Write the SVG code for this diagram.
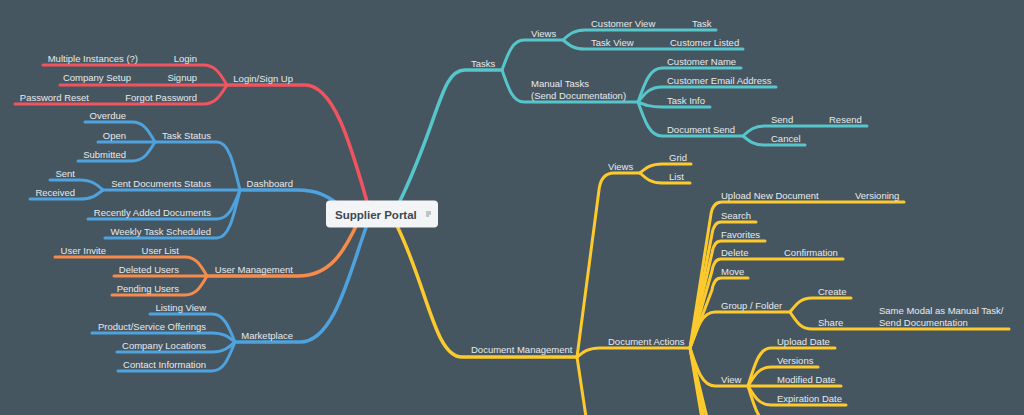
<svg xmlns="http://www.w3.org/2000/svg" width="1024" height="415" viewBox="0 0 1024 415">
<style>
.bg{fill:#465661}
.c{fill:none;stroke-width:3;stroke-linecap:round;stroke-linejoin:round}
.m{stroke-width:3.5}
.red{stroke:#F1545F}.teal{stroke:#56C6CB}.blue{stroke:#4EA2DE}.orange{stroke:#F68B4B}.yel{stroke:#FDCA2E}
text{font-family:"Liberation Sans",Arial,sans-serif;font-size:9.5px;fill:#E6EAED}
.e{text-anchor:end}
.root{font-size:11.5px;font-weight:bold;fill:#3D4852}
</style>
<rect class="bg" x="0" y="0" width="1024" height="415"/>
<g id="connectors">
<!-- red -->
<path class="c m red" d="M368,205 C352,150 335,85 305,85 H227"/>
<path class="c red" d="M227,85 C219.8,73 215,65 203,65 H43"/>
<path class="c red" d="M227,85 H60"/>
<path class="c red" d="M227,85 C219.8,96.4 215,104 203,104 H15"/>
<!-- blue dashboard -->
<path class="c m blue" d="M342,207 C326,194 314,190 298,190 H240"/>
<path class="c blue" d="M240,190 C233.1,161.2 228.5,142 217,142 H155"/>
<path class="c blue" d="M240,190 H103"/>
<path class="c blue" d="M240,190 C233.1,207.4 228.5,219 217,219 H88"/>
<path class="c blue" d="M240,190 C233.1,218.8 228.5,238 217,238 H105"/>
<path class="c blue" d="M155,142 C148.1,130 143.5,122 132,122 H85"/>
<path class="c blue" d="M155,142 H98"/>
<path class="c blue" d="M155,142 C148.1,153.4 143.5,161 132,161 H78"/>
<path class="c blue" d="M103,190 C96.1,184 91.5,180 80,180 H50"/>
<path class="c blue" d="M103,190 C96.1,195.4 91.5,199 80,199 H30"/>
<!-- orange -->
<path class="c m orange" d="M358,222 C344,252 330,276 298,276 H207"/>
<path class="c orange" d="M207,276 C200.4,264.6 196,257 185,257 H55"/>
<path class="c orange" d="M207,276 H114"/>
<path class="c orange" d="M207,276 C200.4,287.4 196,295 185,295 H112"/>
<!-- blue marketplace -->
<path class="c m blue" d="M368,222 C350,270 335,342 300,342 H235"/>
<path class="c blue" d="M235,342 C228.1,325.2 223.5,314 212,314 H150"/>
<path class="c blue" d="M235,342 C228.1,336.6 223.5,333 212,333 H92"/>
<path class="c blue" d="M235,342 C228.1,348 223.5,352 212,352 H117"/>
<path class="c blue" d="M235,342 C228.1,359.4 223.5,371 212,371 H118"/>
<!-- teal -->
<path class="c m teal" d="M398,205 C440,120 440,70 465,70 H502"/>
<path class="c teal" d="M502,70 C508.6,52 513,40 524,40 H563"/>
<path class="c teal" d="M502,70 C508.6,89.2 513,102 524,102 H638"/>
<path class="c teal" d="M563,40 C569.6,34 574,30 585,30 H716"/>
<path class="c teal" d="M563,40 C569.6,45.4 574,49 585,49 H743"/>
<path class="c teal" d="M638,102 C645.2,81.6 650,68 662,68 H741"/>
<path class="c teal" d="M638,102 C645.2,93 650,87 662,87 H776"/>
<path class="c teal" d="M638,102 C645.2,105 650,107 662,107 H710"/>
<path class="c teal" d="M638,102 C645.2,122.4 650,136 662,136 H743"/>
<path class="c teal" d="M743,136 C749.6,130 754,126 765,126 H867"/>
<path class="c teal" d="M743,136 C749.6,141.4 754,145 765,145 H805"/>
<!-- yellow -->
<path class="c m yel" d="M398,228 C428,290 435,357 462,357 H577"/>
<path class="c yel" d="M577,357 L599,190 Q601,173 614,173 H640"/>
<path class="c yel" d="M577,357 C583.9,351.6 588.5,348 600,348 H690"/>
<path class="c yel" d="M577,357 L600,510"/>
<path class="c yel" d="M640,173 C646.6,167.6 651,164 662,164 H691"/>
<path class="c yel" d="M640,173 C646.6,179 651,183 662,183 H690"/>
<path class="c yel" d="M690,348 L711,214 Q713,202 722,202 H904"/>
<path class="c yel" d="M690,348 L712,234 Q714,222 721,222 H756"/>
<path class="c yel" d="M690,348 L712,253 Q714,241 721,241 H765"/>
<path class="c yel" d="M690,348 L712,271 Q714,259 721,259 H843"/>
<path class="c yel" d="M690,348 L712,290 Q714,278 721,278 H748"/>
<path class="c yel" d="M690,348 C697.5,326.4 702.5,312 715,312 H790"/>
<path class="c yel" d="M690,348 C697.5,370.8 702.5,386 715,386 H748"/>
<path class="c yel" d="M690,348 L712,438 Q714,450 721,450 H780"/>
<path class="c yel" d="M690,348 L712,458 Q714,470 721,470 H780"/>
<path class="c yel" d="M690,348 L712,478 Q714,490 721,490 H780"/>
<path class="c yel" d="M790,312 C796.6,303.6 801,298 812,298 H851"/>
<path class="c yel" d="M790,312 C796.6,322.2 801,329 812,329 H1009"/>
<path class="c yel" d="M748,386 C754.9,363.2 759.5,348 771,348 H835"/>
<path class="c yel" d="M748,386 C754.9,374.6 759.5,367 771,367 H818"/>
<path class="c yel" d="M748,386 H841"/>
<path class="c yel" d="M748,386 C754.9,397.4 759.5,405 771,405 H846"/>
<path class="c yel" d="M748,386 C754.9,408.8 759.5,424 771,424 H820"/>
</g>
<g id="root">
<rect x="326" y="200.5" width="112" height="27" rx="4" fill="#F3F4F5"/>
<text class="root" x="335" y="219">Supplier Portal</text>
<path d="M426,212 H431 M426,214 H431 M426,216 H429" stroke="#8A939A" stroke-width="1" fill="none"/>
</g>
<g id="login-signup"><text class="e" x="293" y="81.5">Login/Sign Up</text></g>
<g id="login"><text class="e" x="197" y="61.5">Login</text></g>
<g id="multiple-instances"><text class="e" x="138" y="61.5">Multiple Instances (?)</text></g>
<g id="signup"><text class="e" x="197" y="81">Signup</text></g>
<g id="company-setup"><text class="e" x="131" y="81">Company Setup</text></g>
<g id="forgot-password"><text class="e" x="197" y="100.5">Forgot Password</text></g>
<g id="password-reset"><text class="e" x="89" y="100.5">Password Reset</text></g>
<g id="dashboard"><text class="e" x="293" y="186.5">Dashboard</text></g>
<g id="task-status"><text class="e" x="211" y="138.5">Task Status</text></g>
<g id="overdue"><text class="e" x="126" y="118.5">Overdue</text></g>
<g id="open"><text class="e" x="126" y="138.5">Open</text></g>
<g id="submitted"><text class="e" x="126" y="157.5">Submitted</text></g>
<g id="sent-documents-status"><text class="e" x="211" y="186.5">Sent Documents Status</text></g>
<g id="sent"><text class="e" x="75" y="176.5">Sent</text></g>
<g id="received"><text class="e" x="75" y="195.5">Received</text></g>
<g id="recently-added"><text class="e" x="211" y="215.5">Recently Added Documents</text></g>
<g id="weekly-task"><text class="e" x="211" y="234.5">Weekly Task Scheduled</text></g>
<g id="user-management"><text class="e" x="293" y="272.5">User Management</text></g>
<g id="user-list"><text class="e" x="179" y="253.5">User List</text></g>
<g id="user-invite"><text class="e" x="106" y="253.5">User Invite</text></g>
<g id="deleted-users"><text class="e" x="179" y="272.5">Deleted Users</text></g>
<g id="pending-users"><text class="e" x="179" y="291.5">Pending Users</text></g>
<g id="marketplace"><text class="e" x="293" y="338.5">Marketplace</text></g>
<g id="listing-view"><text class="e" x="206" y="310.5">Listing View</text></g>
<g id="product-service"><text class="e" x="206" y="329.5">Product/Service Offerings</text></g>
<g id="company-locations"><text class="e" x="206" y="348.5">Company Locations</text></g>
<g id="contact-information"><text class="e" x="206" y="367.5">Contact Information</text></g>
<g id="tasks"><text x="471" y="66.5">Tasks</text></g>
<g id="tasks-views"><text x="531" y="36.5">Views</text></g>
<g id="customer-view"><text x="591" y="26.5">Customer View</text></g>
<g id="task"><text x="692" y="26.5">Task</text></g>
<g id="task-view"><text x="591" y="45.5">Task View</text></g>
<g id="customer-listed"><text x="670" y="45.5">Customer Listed</text></g>
<g id="manual-tasks"><text x="531" y="87">Manual Tasks</text><text x="531" y="98.5">(Send Documentation)</text></g>
<g id="customer-name"><text x="667" y="64.5">Customer Name</text></g>
<g id="customer-email"><text x="667" y="83.5">Customer Email Address</text></g>
<g id="task-info"><text x="667" y="103.5">Task Info</text></g>
<g id="document-send"><text x="667" y="132.5">Document Send</text></g>
<g id="send"><text x="771" y="122.5">Send</text></g>
<g id="resend"><text x="829" y="122.5">Resend</text></g>
<g id="cancel"><text x="771" y="141.5">Cancel</text></g>
<g id="document-management"><text x="471" y="353">Document Management</text></g>
<g id="dm-views"><text x="608" y="169.5">Views</text></g>
<g id="grid"><text x="669" y="160.5">Grid</text></g>
<g id="list"><text x="669" y="179.5">List</text></g>
<g id="document-actions"><text x="608" y="344.5">Document Actions</text></g>
<g id="upload-new-document"><text x="721" y="198.5">Upload New Document</text></g>
<g id="versioning"><text x="855" y="198.5">Versioning</text></g>
<g id="search"><text x="721" y="218.5">Search</text></g>
<g id="favorites"><text x="721" y="237.5">Favorites</text></g>
<g id="delete"><text x="721" y="255.5">Delete</text></g>
<g id="confirmation"><text x="784" y="255.5">Confirmation</text></g>
<g id="move"><text x="721" y="274.5">Move</text></g>
<g id="group-folder"><text x="721" y="308.5">Group / Folder</text></g>
<g id="create"><text x="818" y="294.5">Create</text></g>
<g id="share"><text x="818" y="325.5">Share</text></g>
<g id="same-modal"><text x="879" y="314">Same Modal as Manual Task/</text><text x="879" y="325.5">Send Documentation</text></g>
<g id="view"><text x="721" y="382.5">View</text></g>
<g id="upload-date"><text x="777" y="344.5">Upload Date</text></g>
<g id="versions"><text x="777" y="363.5">Versions</text></g>
<g id="modified-date"><text x="777" y="382.5">Modified Date</text></g>
<g id="expiration-date"><text x="777" y="401.5">Expiration Date</text></g>
</svg>
